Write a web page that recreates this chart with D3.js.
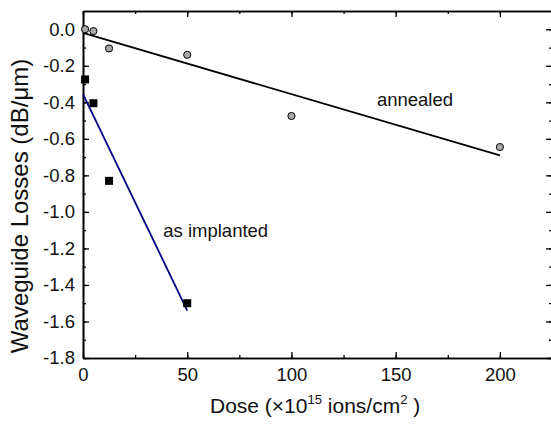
<!DOCTYPE html>
<html>
<head>
<meta charset="utf-8">
<script src="https://cdnjs.cloudflare.com/ajax/libs/d3/7.8.5/d3.min.js"></script>
<style>
  body { margin: 0; background: #fff; }
  svg { font-family: Arial, "Liberation Sans", sans-serif; }
</style>
</head>
<body>
<div id="chart"></div>
<script>
// annealed samples (grey circles)
var annealedDose = [1, 5, 12.5, 50, 100, 200];
var annealedLoss = [0.0, -0.01, -0.105, -0.14, -0.475, -0.645];
// as implanted samples (black squares)
var implantedDose = [1, 5, 12.5, 50];
var implantedLoss = [-0.275, -0.405, -0.83, -1.5];
// linear fits, end points
var annealedFit = [[0, -0.02], [200, -0.69]];
var implantedFit = [[0, -0.355], [50, -1.54]];

var xTicks = [0, 50, 100, 150, 200];
var yTicks = [0.0, -0.2, -0.4, -0.6, -0.8, -1.0, -1.2, -1.4, -1.6, -1.8];

var margin = { top: 11, right: -1, bottom: 67, left: 83 },
    width = 551 - margin.left - margin.right,
    height = 425 - margin.top - margin.bottom;

var x = d3.scaleLinear().domain([0, 225]).range([0, width]);
var y = d3.scaleLinear().domain([-1.8, 0.1]).range([height, 0]);

var svg = d3.select("#chart").append("svg")
    .attr("width", 551)
    .attr("height", 425)
    .append("g")
    .attr("transform", "translate(" + margin.left + "," + margin.top + ")");

// axes, ticks inward
function styleAxis(g) {
    g.selectAll(".domain").attr("stroke", "#000").attr("stroke-width", 1.6);
    g.selectAll(".tick line").attr("stroke", "#000").attr("stroke-width", 1.3);
    g.selectAll("text").attr("font-size", "18.5px").attr("fill", "#111");
}

var minorX = d3.range(0, 226, 25);
var minorY = d3.range(-18, 1, 1).map(function (d) { return d / 10; });

// minor ticks
svg.append("g").attr("transform", "translate(0," + height + ")")
    .call(d3.axisBottom(x).tickValues(minorX).tickSize(-3).tickFormat("").tickSizeOuter(0)).call(styleAxis);
svg.append("g")
    .call(d3.axisTop(x).tickValues(minorX).tickSize(-3).tickFormat("").tickSizeOuter(0)).call(styleAxis);
svg.append("g")
    .call(d3.axisLeft(y).tickValues(minorY).tickSize(-3).tickFormat("").tickSizeOuter(0)).call(styleAxis);
svg.append("g").attr("transform", "translate(" + width + ",0)")
    .call(d3.axisRight(y).tickValues(minorY).tickSize(-3).tickFormat("").tickSizeOuter(0)).call(styleAxis);

// major ticks
svg.append("g").attr("transform", "translate(0," + height + ")")
    .call(d3.axisBottom(x).tickValues(xTicks).tickSize(-6).tickPadding(10).tickSizeOuter(0)).call(styleAxis);
svg.append("g")
    .call(d3.axisTop(x).tickValues(xTicks).tickSize(-6).tickFormat("").tickSizeOuter(0)).call(styleAxis);
svg.append("g")
    .call(d3.axisLeft(y).tickValues(yTicks).tickSize(-6).tickPadding(8)
        .tickFormat(function (d) { return d.toFixed(1); }).tickSizeOuter(0)).call(styleAxis);
svg.append("g").attr("transform", "translate(" + width + ",0)")
    .call(d3.axisRight(y).tickValues(yTicks).tickSize(-6).tickFormat("").tickSizeOuter(0)).call(styleAxis);

// fit lines
var line = d3.line()
    .x(function (d) { return x(d[0]); })
    .y(function (d) { return y(d[1]); });

svg.append("path").datum(annealedFit)
    .attr("d", line).attr("fill", "none").attr("stroke", "#000").attr("stroke-width", 1.8);
svg.append("path").datum(implantedFit)
    .attr("d", line).attr("fill", "none").attr("stroke", "#000080").attr("stroke-width", 1.8);

// points
svg.selectAll(".ann").data(annealedDose).enter().append("circle")
    .attr("cx", function (d) { return x(d); })
    .attr("cy", function (d, i) { return y(annealedLoss[i]); })
    .attr("r", 3.6)
    .attr("fill", "#a8a8a8").attr("stroke", "#000").attr("stroke-width", 1);

svg.selectAll(".imp").data(implantedDose).enter().append("rect")
    .attr("x", function (d) { return x(d) - 4; })
    .attr("y", function (d, i) { return y(implantedLoss[i]) - 4; })
    .attr("width", 8).attr("height", 8)
    .attr("fill", "#000");

// labels
svg.append("text").attr("x", x(141)).attr("y", y(-0.42))
    .attr("font-size", "18.5px").attr("fill", "#111").text("annealed");
svg.append("text").attr("x", x(38.5)).attr("y", y(-1.14))
    .attr("font-size", "18.5px").attr("fill", "#111").text("as implanted");

// axis titles
var xt = svg.append("text")
    .attr("x", 127).attr("y", height + 55)
    .attr("font-size", "21px").attr("fill", "#111");
xt.append("tspan").text("Dose (\u00d710");
xt.append("tspan").attr("dy", -9).attr("font-size", "13px").text("15");
xt.append("tspan").attr("dy", 9).text(" ions/cm");
xt.append("tspan").attr("dy", -9).attr("font-size", "13px").text("2");
xt.append("tspan").attr("dy", 9).text(" )");

svg.append("text")
    .attr("transform", "translate(" + (-55) + "," + (206 - margin.top) + ") rotate(-90)")
    .attr("text-anchor", "middle")
    .attr("font-size", "24px").attr("fill", "#111")
    .text("Waveguide Losses (dB/\u03bcm)");
</script>
</body>
</html>
